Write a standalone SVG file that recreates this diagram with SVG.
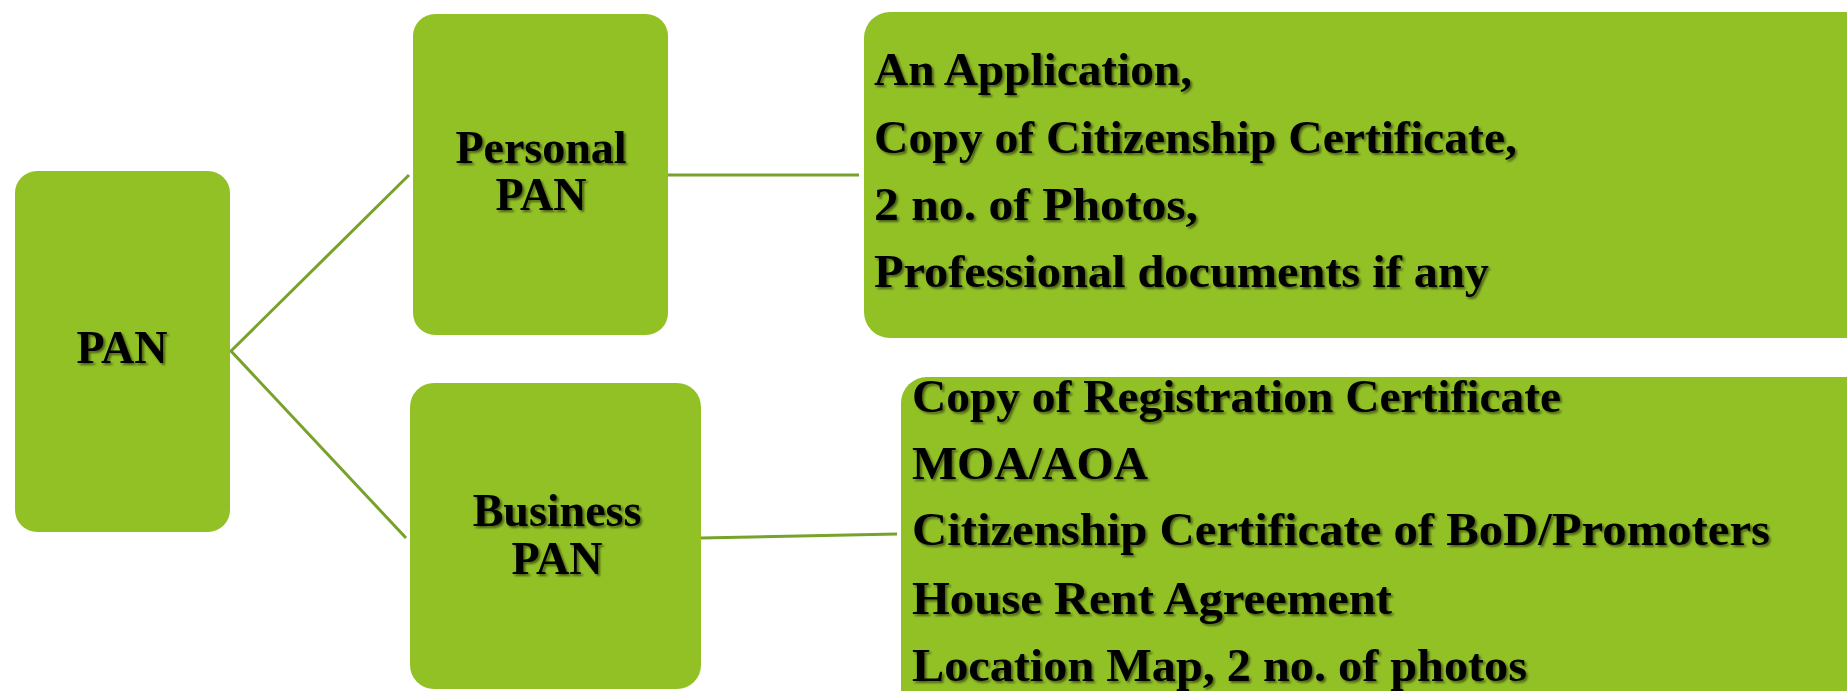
<svg xmlns="http://www.w3.org/2000/svg" width="1847" height="691" viewBox="0 0 1847 691">
<defs>
<filter id="sh" x="-5%" y="-20%" width="110%" height="150%">
<feDropShadow dx="2" dy="2" stdDeviation="1" flood-color="#000" flood-opacity="0.5"/>
</filter>
<style>
.box{fill:#92c126;}
.t{font-family:"Liberation Serif","Times New Roman",serif;font-weight:bold;font-size:46px;fill:#000;filter:url(#sh);}
.c{text-anchor:middle;}
.ln{stroke:#77a22b;stroke-width:3;fill:none;}
</style>
</defs>
<rect width="1847" height="691" fill="#fff"/>
<g id="connectors">
<polyline class="ln" points="409,175 231,351 406,538"/>
<line class="ln" x1="668" y1="175" x2="859" y2="175"/>
<line class="ln" x1="701" y1="538" x2="897" y2="534"/>
</g>
<g id="pan">
<rect class="box" x="15" y="171" width="215" height="361" rx="22"/>
<text class="t c" x="122" y="363">PAN</text>
</g>
<g id="personal-pan">
<rect class="box" x="413" y="14" width="255" height="321" rx="22"/>
<text class="t c" x="541" y="163">Personal</text>
<text class="t c" x="541" y="210">PAN</text>
</g>
<g id="business-pan">
<rect class="box" x="410" y="383" width="291" height="306" rx="24"/>
<text class="t c" x="557" y="526">Business</text>
<text class="t c" x="557" y="574">PAN</text>
</g>
<g id="personal-docs">
<rect class="box" x="864" y="12" width="1010" height="326" rx="26"/>
<text class="t" x="874" y="85" textLength="318" lengthAdjust="spacingAndGlyphs">An Application,</text>
<text class="t" x="874" y="153" textLength="643" lengthAdjust="spacingAndGlyphs">Copy of  Citizenship Certificate,</text>
<text class="t" x="874" y="220" textLength="324" lengthAdjust="spacingAndGlyphs">2 no. of  Photos,</text>
<text class="t" x="874" y="287" textLength="615" lengthAdjust="spacingAndGlyphs">Professional documents if  any</text>
</g>
<g id="business-docs">
<rect class="box" x="901" y="377" width="973" height="340" rx="26"/>
<text class="t" x="912" y="412" textLength="649" lengthAdjust="spacingAndGlyphs">Copy of  Registration Certificate</text>
<text class="t" x="912" y="479" textLength="236" lengthAdjust="spacingAndGlyphs">MOA/AOA</text>
<text class="t" x="912" y="545" textLength="858" lengthAdjust="spacingAndGlyphs">Citizenship Certificate of  BoD/Promoters</text>
<text class="t" x="912" y="614" textLength="480" lengthAdjust="spacingAndGlyphs">House Rent Agreement</text>
<text class="t" x="912" y="681" textLength="615" lengthAdjust="spacingAndGlyphs">Location Map, 2 no. of  photos</text>
</g>
</svg>
